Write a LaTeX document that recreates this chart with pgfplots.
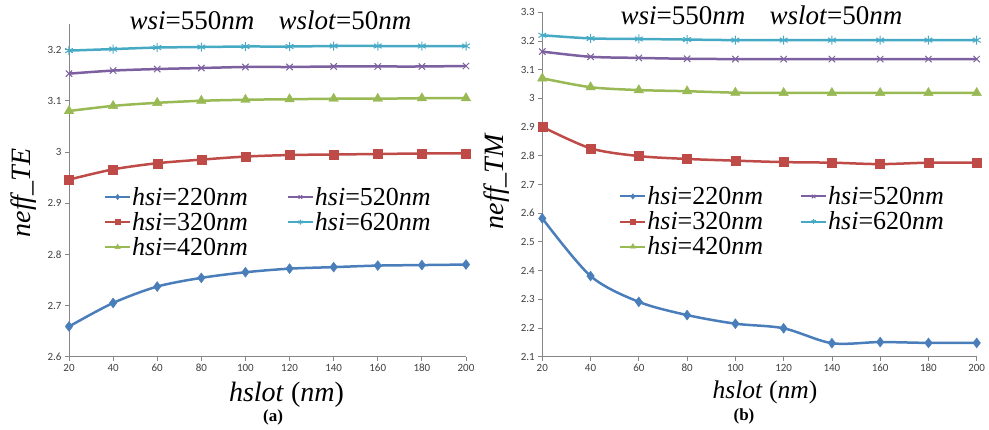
\documentclass[border=0pt]{standalone}
\usepackage{fontspec}
\setmainfont{Liberation Serif}
\newfontfamily\carlito{Carlito}
\usepackage{pgfplots}
\pgfplotsset{compat=1.18}
\definecolor{cBlue}{HTML}{4A7EBB}
\definecolor{cRed}{HTML}{BE4B48}
\definecolor{cGreen}{HTML}{98B954}
\definecolor{cPurple}{HTML}{7D60A0}
\definecolor{cCyan}{HTML}{46AAC5}
\definecolor{axgray}{HTML}{868686}
\definecolor{tickgray}{HTML}{404040}

\pgfplotstableread{
x   a     b     c     d     e
20  2.659 2.946 3.080 3.153 3.198
40  2.705 2.966 3.090 3.159 3.201
60  2.737 2.978 3.096 3.162 3.204
80  2.754 2.985 3.100 3.164 3.205
100 2.765 2.991 3.102 3.166 3.206
120 2.772 2.994 3.103 3.166 3.206
140 2.775 2.995 3.104 3.167 3.207
160 2.778 2.996 3.104 3.167 3.207
180 2.779 2.997 3.105 3.167 3.207
200 2.780 2.997 3.105 3.168 3.207
}\teData

\pgfplotstableread{
x   a     b     c     d     e
20  2.582 2.901 3.070 3.163 3.220
40  2.381 2.826 3.039 3.145 3.209
60  2.291 2.799 3.029 3.141 3.207
80  2.245 2.789 3.025 3.138 3.205
100 2.215 2.783 3.020 3.137 3.203
120 2.199 2.778 3.019 3.137 3.203
140 2.147 2.776 3.019 3.137 3.203
160 2.151 2.771 3.019 3.137 3.203
180 2.148 2.776 3.019 3.137 3.203
200 2.148 2.776 3.019 3.137 3.203
}\tmData

\pgfplotsset{
  exstyle/.style={
    scale only axis,
    axis x line=bottom, axis y line=left,
    axis line style={-, color=axgray, line width=0.8pt},
    tick align=outside, major tick length=4pt,
    tick style={axgray, line width=0.8pt},
    xmin=20, xmax=200, xtick={20,40,...,200},
    tick label style={font=\carlito\fontsize{11}{13}\selectfont, text=tickgray},
    /pgf/number format/assume math mode=true,
    legend columns=2,
    legend style={draw=none, fill=none, font=\fontsize{26}{29}\selectfont,
      anchor=north west, inner sep=0pt, row sep=1.5pt,
      nodes={inner xsep=1pt},
      cells={anchor=west}},
    legend image code/.code={%
      \draw[mark repeat=2,mark phase=2,line width=2pt,/tikz/every mark/.append style={scale=0.55}]
        plot coordinates {(0pt,0pt) (12.5pt,0pt) (25pt,0pt)};},
    every axis plot/.append style={line width=2.5pt, smooth, tension=0.5},
  },
  sA/.style={cBlue, mark=diamond*, mark size=5pt, mark options={solid, line width=0.4pt}},
  sB/.style={cRed, mark=square*, mark size=4.5pt, mark options={solid, line width=0.4pt}},
  sC/.style={cGreen, mark=triangle*, mark size=5.5pt, mark options={solid, line width=0.4pt}},
  sD/.style={cPurple, mark=x, mark size=4.5pt, mark options={solid, line width=1pt}},
  sE/.style={cCyan, mark=asterisk, mark size=4.5pt, mark options={solid, line width=1pt}},
}

\begin{document}
\begin{tikzpicture}
\useasboundingbox (0,0) rectangle (989pt,430pt);
\begin{axis}[exstyle,
  at={(69pt,73.3pt)}, anchor=south west,
  width=397pt, height=332.7pt,
  ymin=2.6, ymax=3.25,
  ytick={2.6,2.7,2.8,2.9,3.0,3.1,3.2},
  yticklabels={2.6,2.7,2.8,2.9,3,3.1,3.2},
  legend style={at={(axis description cs:0.088,0.516)},
    /tikz/every even column/.append style={column sep=38pt}},
]
\addplot[sA] table[x=x,y=a] {\teData};
\addlegendentry{\textit{hsi}=220\textit{nm}}
\addplot[sD] table[x=x,y=d] {\teData};
\addlegendentry{\textit{hsi}=520\textit{nm}}
\addplot[sB] table[x=x,y=b] {\teData};
\addlegendentry{\textit{hsi}=320\textit{nm}}
\addplot[sE] table[x=x,y=e] {\teData};
\addlegendentry{\textit{hsi}=620\textit{nm}}
\addplot[sC] table[x=x,y=c] {\teData};
\addlegendentry{\textit{hsi}=420\textit{nm}}
\end{axis}

\begin{axis}[exstyle,
  at={(542.3pt,73.3pt)}, anchor=south west,
  width=434.4pt, height=344.4pt,
  ymin=2.1, ymax=3.3,
  ytick={2.1,2.2,2.3,2.4,2.5,2.6,2.7,2.8,2.9,3.0,3.1,3.2,3.3},
  yticklabels={2.1,2.2,2.3,2.4,2.5,2.6,2.7,2.8,2.9,3,3.1,3.2,3.3},
  legend style={at={(axis description cs:0.177,0.5)},
    /tikz/every even column/.append style={column sep=36pt}},
]
\addplot[sA] table[x=x,y=a] {\tmData};
\addlegendentry{\textit{hsi}=220\textit{nm}}
\addplot[sD] table[x=x,y=d] {\tmData};
\addlegendentry{\textit{hsi}=520\textit{nm}}
\addplot[sB] table[x=x,y=b] {\tmData};
\addlegendentry{\textit{hsi}=320\textit{nm}}
\addplot[sE] table[x=x,y=e] {\tmData};
\addlegendentry{\textit{hsi}=620\textit{nm}}
\addplot[sC] table[x=x,y=c] {\tmData};
\addlegendentry{\textit{hsi}=420\textit{nm}}
\end{axis}

\node[anchor=base, font=\fontsize{27}{31}\selectfont] at (270.5pt,400pt)
  {\textit{wsi}=550\textit{nm}\hspace{0.9em}\textit{wslot}=50\textit{nm}};
\node[anchor=base, font=\fontsize{27}{31}\selectfont] at (761.5pt,405pt)
  {\textit{wsi}=550\textit{nm}\hspace{0.9em}\textit{wslot}=50\textit{nm}};
\node[anchor=base, font=\fontsize{28}{32}\selectfont] at (286.5pt,28pt) {\textit{hslot} (\textit{nm})};
\node[anchor=base, font=\fontsize{25.5}{30}\selectfont] at (765pt,31pt) {\textit{hslot} (\textit{nm})};
\node[anchor=base, font=\bfseries\fontsize{17}{20}\selectfont] at (273pt,8pt) {(a)};
\node[anchor=base, font=\bfseries\fontsize{17}{20}\selectfont] at (744pt,9.5pt) {(b)};
\node[rotate=90, font=\fontsize{28}{32}\selectfont] at (24pt,237pt) {\textit{neff\_TE}};
\node[rotate=90, font=\fontsize{28}{32}\selectfont] at (497pt,249pt) {\textit{neff\_TM}};
\end{tikzpicture}
\end{document}
